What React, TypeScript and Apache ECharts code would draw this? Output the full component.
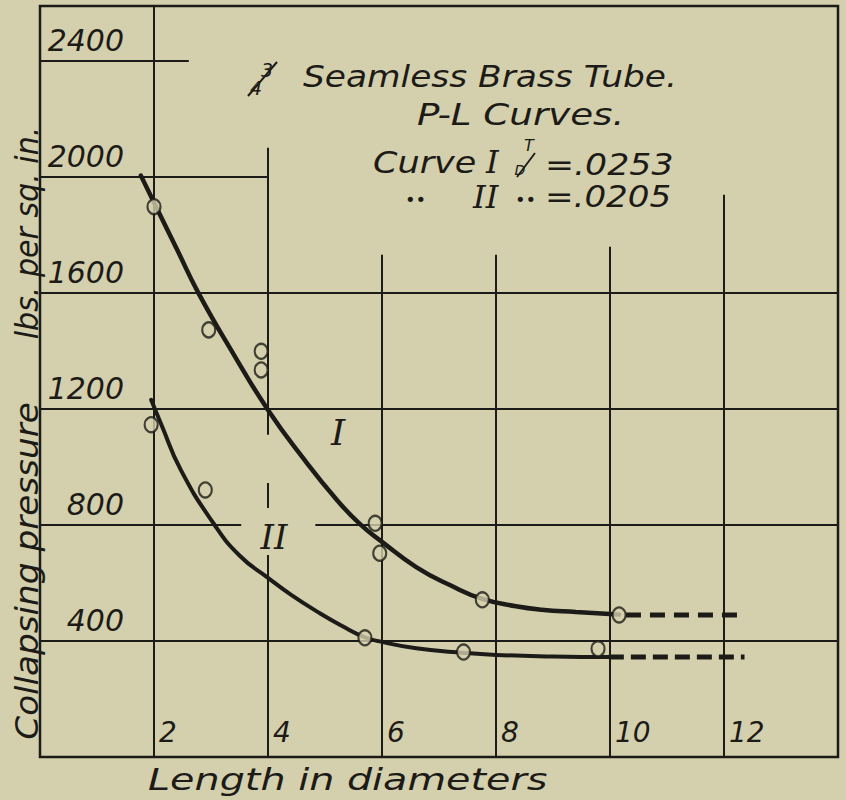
import React, { useEffect, useRef } from "react";
import * as echarts from "echarts";

// ---- data ----
const xTickLabels = ["2", "4", "6", "8", "10", "12"];
const yTickLabels = ["400", "800", "1200", "1600", "2000", "2400"];

// Curve I (T/D = .0253) drawn curve
const curveI: [number, number][] = [
  [1.77, 2005], [2.0, 1912], [2.4, 1752], [2.78, 1600], [3.4, 1388], [4.0, 1197],
  [4.6, 1035], [5.22, 884], [5.62, 802], [6.0, 742], [6.6, 655], [7.2, 592],
  [7.76, 545], [8.35, 520], [8.8, 508], [9.4, 500], [10.0, 493], [10.16, 491],
];
// Curve II (T/D = .0205) drawn curve
const curveII: [number, number][] = [
  [1.95, 1232], [2.13, 1146], [2.47, 990], [3.04, 807], [3.5, 695], [4.0, 618],
  [4.4, 560], [4.9, 497], [5.3, 452], [5.7, 413], [6.0, 397], [6.6, 375],
  [7.43, 359], [8.0, 352], [9.0, 347], [10.0, 345],
];
// test points
const pointsI: [number, number][] = [
  [2.0, 1898], [2.96, 1473], [3.88, 1399], [3.88, 1335], [5.88, 806], [5.96, 703],
  [7.76, 542], [10.16, 490],
];
const pointsII: [number, number][] = [
  [1.95, 1146], [2.9, 921], [5.7, 411], [7.43, 362], [9.79, 373],
];
// dashed extrapolations
const dashI: [number, number][] = [[10.28, 490], [12.33, 490]];
const dashII: [number, number][] = [[9.98, 345], [12.36, 345]];

// partial grid rulings of the drawing: [y, xFrom, xTo] and [x, yFrom, yTo]
const hRules: [number, number, number][] = [
  [2400, 0, 2.61], [2000, 0, 4], [1600, 0, 14], [1200, 0, 14],
  [800, 0, 3.53], [800, 4.83, 14], [400, 0, 14],
];
const vRules: [number, number, number][] = [
  [2, 0, 2590], [4, 2101, 1111], [4, 945, 859], [4, 697, 0],
  [6, 0, 1732], [8, 0, 1732], [10, 0, 1760], [12, 0, 1939],
];

const BG = "#d4d0ad";
const INK = "#1c1b17";
const HAND = "DejaVu Sans";
const SERIF = "DejaVu Serif";

function txt(
  text: string, x: number, y: number, size: number,
  opts: { align?: string; scaleX?: number; rotation?: number; family?: string; weight?: string } = {}
) {
  const align = opts.align || "left";
  return {
    type: "text",
    x, y,
    scaleX: opts.scaleX || 1,
    rotation: opts.rotation || 0,
    silent: true,
    style: {
      text,
      fill: INK,
      fontSize: size,
      fontFamily: opts.family || HAND,
      fontStyle: "italic",
      fontWeight: opts.weight || "normal",
      align, textAlign: align,
      verticalAlign: "middle", textVerticalAlign: "middle",
    },
  };
}

function stroke(x1: number, y1: number, x2: number, y2: number, w = 2) {
  return { type: "line", silent: true, shape: { x1, y1, x2, y2 }, style: { stroke: INK, lineWidth: w } };
}

export default function App() {
  const ref = useRef<HTMLDivElement>(null);
  useEffect(() => {
    const chart = echarts.init(ref.current!, null, { renderer: "svg" });
    const ruleData: any[] = [
      ...hRules.map(([y, a, b]) => [{ coord: [a, y] }, { coord: [b, y] }]),
      ...vRules.map(([x, a, b]) => [{ coord: [x, a] }, { coord: [x, b] }]),
    ];
    const option: any = {
      animation: false,
      backgroundColor: BG,
      grid: {
        left: 40, right: 3, top: 6, bottom: 43,
        show: true, borderColor: INK, borderWidth: 2.5, backgroundColor: "transparent",
      },
      xAxis: {
        type: "value", min: 0, max: 14, interval: 2,
        axisLine: { show: false }, axisTick: { show: false }, splitLine: { show: false },
        axisLabel: {
          inside: true, margin: 10, align: "left", verticalAlign: "bottom", lineHeight: 30,
          padding: [0, 0, 0, 5],
          fontSize: 28, fontStyle: "italic", fontFamily: HAND, color: INK,
          formatter: (v: number) => (xTickLabels.includes(String(v)) ? String(v) : ""),
        },
      },
      yAxis: {
        type: "value", min: 0, max: 2590, interval: 400,
        axisLine: { show: false }, axisTick: { show: false }, splitLine: { show: false },
        axisLabel: {
          inside: true, margin: 84, align: "right", verticalAlign: "bottom", lineHeight: 42,
          fontSize: 30, fontStyle: "italic", fontFamily: HAND, color: INK,
          formatter: (v: number) => (yTickLabels.includes(String(v)) ? String(v) : ""),
        },
      },
      series: [
        {
          type: "line", name: "rules", z: 1, silent: true,
          data: [[0, 0]], symbol: "none", lineStyle: { width: 0, opacity: 0 },
          markLine: {
            silent: true, symbol: ["none", "none"], label: { show: false },
            lineStyle: { color: INK, width: 2, type: "solid" },
            emphasis: { disabled: true },
            data: ruleData,
          },
        },
        {
          type: "line", name: "Curve I", z: 3, data: curveI, smooth: 0.5,
          symbol: "none", lineStyle: { color: INK, width: 4.5, cap: "round" },
        },
        {
          type: "line", name: "Curve II", z: 3, data: curveII, smooth: 0.5,
          symbol: "none", lineStyle: { color: INK, width: 4, cap: "round" },
        },
        {
          type: "line", name: "Curve I ext", z: 3, data: dashI, symbol: "none",
          lineStyle: { color: INK, width: 5, type: [15, 9] },
        },
        {
          type: "line", name: "Curve II ext", z: 3, data: dashII, symbol: "none",
          lineStyle: { color: INK, width: 5, type: [15, 7] },
        },
        {
          type: "scatter", name: "Tests I", z: 5, data: pointsI, symbol: "circle", symbolSize: [13, 15],
          itemStyle: { color: BG, borderColor: INK, borderWidth: 2.2 },
        },
        {
          type: "scatter", name: "Tests II", z: 5, data: pointsII, symbol: "circle", symbolSize: [13, 15],
          itemStyle: { color: BG, borderColor: INK, borderWidth: 2.2 },
        },
      ],
      graphic: [
        // fraction 3/4
        txt("3", 267, 70, 19, { align: "center" }),
        stroke(248, 96, 277, 62, 2),
        txt("4", 256, 88, 19, { align: "center" }),
        txt("Seamless Brass Tube.", 303, 77, 31, { scaleX: 1.11 }),
        txt("P-L Curves.", 417, 114, 31, { scaleX: 1.2 }),
        txt("Curve", 373, 162, 31, { scaleX: 1.13 }),
        txt("I", 486, 162, 32, { family: SERIF }),
        // fraction T/D
        txt("T", 529, 145, 16, { align: "center" }),
        stroke(517, 177, 535, 153, 1.8),
        txt("D", 520, 170, 14, { align: "center" }),
        txt("=.0253", 545, 164, 31, { scaleX: 1.12 }),
        txt("••", 405, 199, 18),
        txt("II", 473, 197, 32, { family: SERIF }),
        txt("••", 515, 199, 18),
        txt("=.0205", 545, 197, 31, { scaleX: 1.1 }),
        // curve labels
        txt("I", 338, 432, 36, { align: "center", family: SERIF }),
        txt("II", 274, 537, 34, { align: "center", family: SERIF }),
        // axis titles
        txt("Length in diameters", 148, 779, 31, { scaleX: 1.28 }),
        txt("Collapsing pressure", 27, 571, 32, { align: "center", rotation: Math.PI / 2, scaleX: 1.07 }),
        txt("lbs. per sq. in.", 27, 233, 32, { align: "center", rotation: Math.PI / 2, scaleX: 0.94 }),
      ],
    };
    chart.setOption(option);
    return () => chart.dispose();
  }, []);
  return (
    <div
      ref={ref}
      style={{ position: "fixed", left: 0, top: 0, width: 846, height: 800, background: BG }}
    />
  );
}
